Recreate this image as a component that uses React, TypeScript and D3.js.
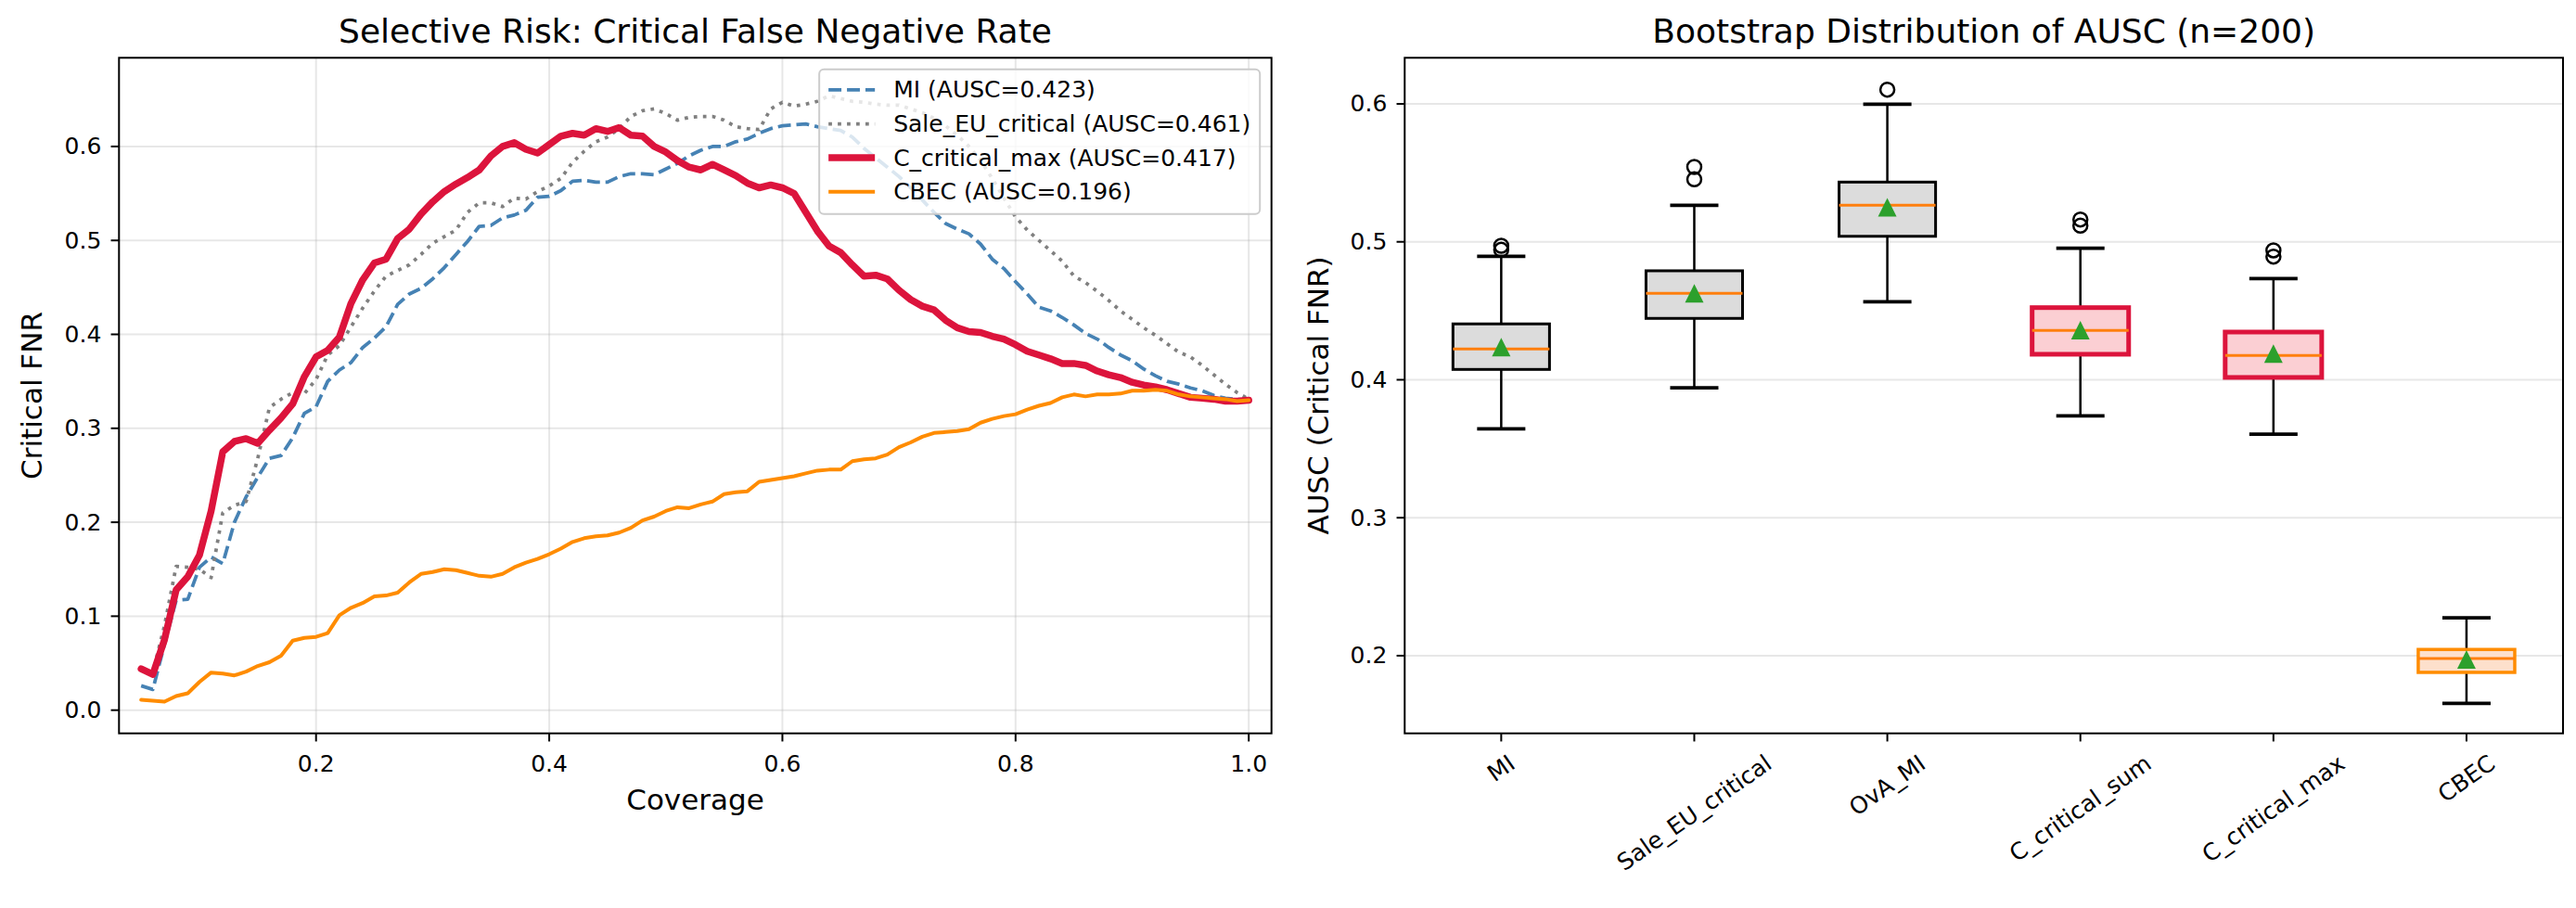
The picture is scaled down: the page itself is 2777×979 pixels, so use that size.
import React from 'react'
import * as d3 from 'd3'

const W = 2777
const H = 979
const FONT = '"DejaVu Sans", Verdana, sans-serif'

// selective-risk curves, one value per coverage level
const COVERAGE = [
  0.05, 0.06, 0.07, 0.08, 0.09, 0.10, 0.11, 0.12, 0.13, 0.14, 0.15, 0.16, 0.17, 0.18, 0.19, 0.20,
  0.21, 0.22, 0.23, 0.24, 0.25, 0.26, 0.27, 0.28, 0.29, 0.30, 0.31, 0.32, 0.33, 0.34, 0.35, 0.36,
  0.37, 0.38, 0.39, 0.40, 0.41, 0.42, 0.43, 0.44, 0.45, 0.46, 0.47, 0.48, 0.49, 0.50, 0.51, 0.52,
  0.53, 0.54, 0.55, 0.56, 0.57, 0.58, 0.59, 0.60, 0.61, 0.62, 0.63, 0.64, 0.65, 0.66, 0.67, 0.68,
  0.69, 0.70, 0.71, 0.72, 0.73, 0.74, 0.75, 0.76, 0.77, 0.78, 0.79, 0.80, 0.81, 0.82, 0.83, 0.84,
  0.85, 0.86, 0.87, 0.88, 0.89, 0.90, 0.91, 0.92, 0.93, 0.94, 0.95, 0.96, 0.97, 0.98, 0.99, 1.00,
]

const MI_FNR = [
  0.026, 0.022, 0.070, 0.117, 0.118, 0.152, 0.163, 0.156, 0.200, 0.227, 0.248, 0.268, 0.271, 0.290, 0.316, 0.323,
  0.350, 0.362, 0.370, 0.386, 0.396, 0.408, 0.432, 0.443, 0.449, 0.459, 0.471, 0.485, 0.499, 0.515, 0.516, 0.524,
  0.527, 0.532, 0.546, 0.547, 0.553, 0.563, 0.564, 0.562, 0.562, 0.568, 0.571, 0.571, 0.570, 0.576, 0.582, 0.590,
  0.596, 0.600, 0.600, 0.605, 0.608, 0.614, 0.619, 0.622, 0.623, 0.624, 0.621, 0.619, 0.617, 0.610, 0.598, 0.588,
  0.578, 0.568, 0.556, 0.543, 0.530, 0.518, 0.512, 0.507, 0.496, 0.480, 0.470, 0.456, 0.443, 0.429, 0.425, 0.418,
  0.410, 0.401, 0.395, 0.386, 0.378, 0.372, 0.363, 0.356, 0.350, 0.347, 0.343, 0.340, 0.335, 0.332, 0.331, 0.330,
]

const SALE_FNR = [
  0.042, 0.040, 0.090, 0.153, 0.152, 0.150, 0.141, 0.210, 0.218, 0.222, 0.268, 0.322, 0.331, 0.338, 0.337, 0.352,
  0.378, 0.388, 0.408, 0.428, 0.446, 0.462, 0.468, 0.474, 0.485, 0.497, 0.504, 0.511, 0.530, 0.540, 0.540, 0.536,
  0.545, 0.544, 0.552, 0.558, 0.566, 0.583, 0.595, 0.605, 0.610, 0.619, 0.632, 0.638, 0.640, 0.635, 0.628, 0.631,
  0.632, 0.632, 0.628, 0.621, 0.619, 0.618, 0.640, 0.647, 0.643, 0.645, 0.648, 0.654, 0.651, 0.648, 0.647, 0.645,
  0.644, 0.644, 0.640, 0.636, 0.630, 0.622, 0.612, 0.600, 0.585, 0.566, 0.545, 0.525, 0.511, 0.500, 0.489, 0.478,
  0.462, 0.455, 0.446, 0.436, 0.425, 0.416, 0.407, 0.399, 0.390, 0.381, 0.376, 0.367, 0.357, 0.347, 0.338, 0.331,
]

const CMAX_FNR = [
  0.044, 0.038, 0.075, 0.128, 0.142, 0.165, 0.212, 0.275, 0.286, 0.289, 0.284, 0.298, 0.311, 0.326, 0.355, 0.376,
  0.383, 0.397, 0.433, 0.458, 0.476, 0.480, 0.502, 0.512, 0.528, 0.541, 0.552, 0.560, 0.567, 0.575, 0.590, 0.600,
  0.604, 0.597, 0.593, 0.602, 0.611, 0.614, 0.612, 0.619, 0.616, 0.620, 0.612, 0.611, 0.600, 0.594, 0.585, 0.578,
  0.575, 0.581, 0.575, 0.569, 0.561, 0.556, 0.559, 0.556, 0.550, 0.530, 0.510, 0.494, 0.487, 0.474, 0.462, 0.463,
  0.459, 0.447, 0.437, 0.430, 0.426, 0.415, 0.407, 0.403, 0.402, 0.398, 0.395, 0.389, 0.382, 0.378, 0.374, 0.369,
  0.369, 0.367, 0.361, 0.357, 0.354, 0.349, 0.346, 0.344, 0.341, 0.337, 0.333, 0.332, 0.331, 0.329, 0.329, 0.330,
]

const CBEC_FNR = [
  0.011, 0.010, 0.009, 0.015, 0.018, 0.030, 0.040, 0.039, 0.037, 0.041, 0.047, 0.051, 0.058, 0.074, 0.077, 0.078,
  0.082, 0.101, 0.109, 0.114, 0.121, 0.122, 0.125, 0.136, 0.145, 0.147, 0.150, 0.149, 0.146, 0.143, 0.142, 0.145,
  0.152, 0.157, 0.161, 0.166, 0.172, 0.179, 0.183, 0.185, 0.186, 0.189, 0.194, 0.202, 0.206, 0.212, 0.216, 0.215,
  0.219, 0.222, 0.230, 0.232, 0.233, 0.243, 0.245, 0.247, 0.249, 0.252, 0.255, 0.256, 0.256, 0.265, 0.267, 0.268,
  0.272, 0.280, 0.285, 0.291, 0.295, 0.296, 0.297, 0.299, 0.306, 0.310, 0.313, 0.315, 0.320, 0.324, 0.327, 0.333,
  0.336, 0.334, 0.336, 0.336, 0.337, 0.340, 0.340, 0.341, 0.340, 0.336, 0.334, 0.333, 0.332, 0.331, 0.329, 0.330,
]

const CURVE_NAMES = ['MI', 'Sale_EU_critical', 'C_critical_max', 'CBEC']
const CURVE_AUSC = [0.423, 0.461, 0.417, 0.196]

// bootstrap box statistics
const METHODS = ['MI', 'Sale_EU_critical', 'OvA_MI', 'C_critical_sum', 'C_critical_max', 'CBEC']
const WHISK_LO = [0.3645, 0.3941, 0.4566, 0.3739, 0.3605, 0.1655]
const Q1 = [0.4075, 0.4445, 0.5040, 0.4185, 0.4017, 0.1879]
const MEDIAN = [0.4223, 0.4626, 0.5265, 0.4358, 0.4176, 0.1980]
const Q3 = [0.4405, 0.4790, 0.5433, 0.4523, 0.4346, 0.2045]
const WHISK_HI = [0.4895, 0.5265, 0.5998, 0.4953, 0.4734, 0.2274]
const MEAN = [0.4236, 0.4627, 0.5251, 0.4360, 0.4190, 0.1973]
const FLIERS = [[0.4971, 0.4942], [0.5543, 0.5453], [0.6103], [0.5162, 0.5117], [0.4938, 0.4893], []]

const CURVE_STYLE = [
  { color: '#4682b4', width: 3.75, dash: '13.9,6' },
  { color: '#808080', width: 3.75, dash: '3.75,6.2' },
  { color: '#dc143c', width: 7.5, dash: null },
  { color: '#ff8c00', width: 4, dash: null },
]

const BOX_STYLE = {
  base: { face: '#dcdcdc', edge: '#000000', width: 3 },
  ours: { face: '#fbcfd3', edge: '#dc143c', width: 5 },
  cbec: { face: '#fde0cc', edge: '#ff8c00', width: 3.5 },
}
const boxKind = (m: string) =>
  m.startsWith('C_critical') ? 'ours' : m === 'CBEC' ? 'cbec' : 'base'

const GRID = '#b0b0b0'
const TICK = 8.75

let ctx: CanvasRenderingContext2D | null = null
function textWidth(s: string, size: number) {
  if (!ctx) ctx = document.createElement('canvas').getContext('2d')
  if (!ctx) return s.length * size * 0.6
  ctx.font = `${size}px "DejaVu Sans"`
  return ctx.measureText(s).width
}

function Frame({ l, r, t, b }: { l: number; r: number; t: number; b: number }) {
  return <rect x={l} y={t} width={r - l} height={b - t} fill="none" stroke="#000" strokeWidth={2} />
}

function RiskPanel() {
  const l = 128.3, r = 1370.7, t = 62.3, b = 790.7
  const x = d3.scaleLinear().domain([0.031, 1.0195]).range([l, r])
  const y = d3.scaleLinear().domain([-0.0247, 0.6944]).range([b, t])
  const xTicks = [0.2, 0.4, 0.6, 0.8, 1.0]
  const yTicks = [0, 0.1, 0.2, 0.3, 0.4, 0.5, 0.6]
  const series = [MI_FNR, SALE_FNR, CMAX_FNR, CBEC_FNR]
  const line = d3.line<number>().x((_, i) => x(COVERAGE[i])).y(v => y(v))

  const labels = CURVE_NAMES.map((n, i) => `${n} (AUSC=${CURVE_AUSC[i].toFixed(3)})`)
  const textW = d3.max(labels, s => textWidth(s, 25)) || 0
  const legW = 10 + 50 + 20 + textW + 10
  const legX = r - 12.5 - legW
  const legY = t + 12.5
  const rowY = [22, 58.7, 95.3, 132]

  return (
    <g>
      {xTicks.map(v => (
        <line key={'gx' + v} x1={x(v)} x2={x(v)} y1={t} y2={b} stroke={GRID} strokeOpacity={0.3} strokeWidth={2} />
      ))}
      {yTicks.map(v => (
        <line key={'gy' + v} x1={l} x2={r} y1={y(v)} y2={y(v)} stroke={GRID} strokeOpacity={0.3} strokeWidth={2} />
      ))}
      {series.map((vals, i) => (
        <path
          key={i}
          d={line(vals) || ''}
          fill="none"
          stroke={CURVE_STYLE[i].color}
          strokeWidth={CURVE_STYLE[i].width}
          strokeDasharray={CURVE_STYLE[i].dash || undefined}
          strokeLinejoin="round"
          strokeLinecap={CURVE_STYLE[i].dash ? 'butt' : 'round'}
        />
      ))}
      <Frame l={l} r={r} t={t} b={b} />
      {xTicks.map(v => (
        <g key={'tx' + v}>
          <line x1={x(v)} x2={x(v)} y1={b} y2={b + TICK} stroke="#000" strokeWidth={2} />
          <text x={x(v)} y={832} textAnchor="middle" fontSize={25}>{v.toFixed(1)}</text>
        </g>
      ))}
      {yTicks.map(v => (
        <g key={'ty' + v}>
          <line x1={l - TICK} x2={l} y1={y(v)} y2={y(v)} stroke="#000" strokeWidth={2} />
          <text x={l - 19} y={y(v)} textAnchor="end" dominantBaseline="central" fontSize={25}>{v.toFixed(1)}</text>
        </g>
      ))}
      <text x={(l + r) / 2} y={46} textAnchor="middle" fontSize={36}>Selective Risk: Critical False Negative Rate</text>
      <text x={(l + r) / 2} y={873} textAnchor="middle" fontSize={31}>Coverage</text>
      <text x={45} y={(t + b) / 2} textAnchor="middle" fontSize={31} transform={`rotate(-90, 45, ${(t + b) / 2})`}>
        Critical FNR
      </text>

      <rect x={legX} y={legY} width={legW} height={156} rx={5} fill="#fff" fillOpacity={0.8} stroke="#cccccc" strokeWidth={2} />
      {labels.map((s, i) => (
        <g key={'lg' + i}>
          <line
            x1={legX + 10}
            x2={legX + 60}
            y1={legY + rowY[i]}
            y2={legY + rowY[i]}
            stroke={CURVE_STYLE[i].color}
            strokeWidth={CURVE_STYLE[i].width}
            strokeDasharray={CURVE_STYLE[i].dash || undefined}
          />
          <text x={legX + 80} y={legY + rowY[i]} dominantBaseline="central" fontSize={25}>{s}</text>
        </g>
      ))}
    </g>
  )
}

function BootPanel() {
  const l = 1514.3, r = 2763, t = 62.3, b = 790.7
  const x = d3.scaleLinear().domain([0.5, 6.5]).range([l, r])
  const y = d3.scaleLinear().domain([0.1437, 0.6334]).range([b, t])
  const yTicks = [0.2, 0.3, 0.4, 0.5, 0.6]
  const half = (x(1.25) - x(1)) // half box width (widths = 0.5)
  const cap = half / 2
  const rot = 35
  const rad = (rot * Math.PI) / 180

  return (
    <g>
      {yTicks.map(v => (
        <line key={'gy' + v} x1={l} x2={r} y1={y(v)} y2={y(v)} stroke={GRID} strokeOpacity={0.3} strokeWidth={2} />
      ))}
      {METHODS.map((m, i) => {
        const cx = x(i + 1)
        const st = BOX_STYLE[boxKind(m)]
        const my = y(MEAN[i])
        return (
          <g key={m}>
            <line x1={cx} x2={cx} y1={y(Q1[i])} y2={y(WHISK_LO[i])} stroke="#000" strokeWidth={2.5} />
            <line x1={cx} x2={cx} y1={y(Q3[i])} y2={y(WHISK_HI[i])} stroke="#000" strokeWidth={2.5} />
            <line x1={cx - cap} x2={cx + cap} y1={y(WHISK_LO[i])} y2={y(WHISK_LO[i])} stroke="#000" strokeWidth={3.75} />
            <line x1={cx - cap} x2={cx + cap} y1={y(WHISK_HI[i])} y2={y(WHISK_HI[i])} stroke="#000" strokeWidth={3.75} />
            <rect
              x={cx - half}
              y={y(Q3[i])}
              width={half * 2}
              height={y(Q1[i]) - y(Q3[i])}
              fill={st.face}
              stroke={st.edge}
              strokeWidth={st.width}
            />
            <line x1={cx - half} x2={cx + half} y1={y(MEDIAN[i])} y2={y(MEDIAN[i])} stroke="#ff7f0e" strokeWidth={3} />
            <path d={`M${cx},${my - 10} L${cx - 10},${my + 10} L${cx + 10},${my + 10} Z`} fill="#2ca02c" />
            {FLIERS[i].map((f, k) => (
              <circle key={k} cx={cx} cy={y(f)} r={7.5} fill="none" stroke="#000" strokeWidth={2.5} />
            ))}
          </g>
        )
      })}
      <Frame l={l} r={r} t={t} b={b} />
      {METHODS.map((m, i) => {
        const cx = x(i + 1)
        const w = textWidth(m, 25)
        const bh = w * Math.sin(rad) + 29 * Math.cos(rad)
        const cy = b + 2 * TICK + bh / 2
        return (
          <g key={'tx' + m}>
            <line x1={cx} x2={cx} y1={b} y2={b + TICK} stroke="#000" strokeWidth={2} />
            <text
              x={cx}
              y={cy}
              textAnchor="middle"
              dominantBaseline="central"
              fontSize={25}
              transform={`rotate(${-rot}, ${cx}, ${cy})`}
            >
              {m}
            </text>
          </g>
        )
      })}
      {yTicks.map(v => (
        <g key={'ty' + v}>
          <line x1={l - TICK} x2={l} y1={y(v)} y2={y(v)} stroke="#000" strokeWidth={2} />
          <text x={l - 19} y={y(v)} textAnchor="end" dominantBaseline="central" fontSize={25}>{v.toFixed(1)}</text>
        </g>
      ))}
      <text x={(l + r) / 2} y={46} textAnchor="middle" fontSize={36}>Bootstrap Distribution of AUSC (n=200)</text>
      <text x={1432} y={(t + b) / 2} textAnchor="middle" fontSize={31} transform={`rotate(-90, 1432, ${(t + b) / 2})`}>
        AUSC (Critical FNR)
      </text>
    </g>
  )
}

export default function App() {
  return (
    <div style={{ position: 'absolute', left: 0, top: 0, width: W, height: H, background: '#fff' }}>
      <svg width={W} height={H} style={{ display: 'block', fontFamily: FONT }} fill="#000">
        <rect width={W} height={H} fill="#fff" />
        <RiskPanel />
        <BootPanel />
      </svg>
    </div>
  )
}
